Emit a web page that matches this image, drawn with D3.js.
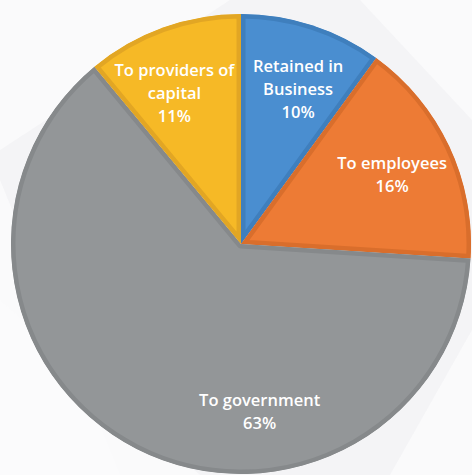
<!DOCTYPE html>
<html>
<head>
<meta charset="utf-8">
<script src="https://cdn.jsdelivr.net/npm/d3@7"></script>
<style>
html,body{margin:0;padding:0;background:#f4f4f6;overflow:hidden;}
svg{display:block;}
</style>
</head>
<body>
<svg id="chart" width="472" height="475"></svg>
<script>
// ---- data ----
const categories = ["Retained in Business", "To employees", "To government", "To providers of capital"];
const values = [10, 16, 63, 11];
const labelLines = [["Retained in", "Business", "10%"], ["To employees", "16%"], ["To government", "63%"], ["To providers of", "capital", "11%"]];
const fills = ["#4a8ed0", "#ed7b35", "#939698", "#f6b926"];
const borders = ["#3f7fbd", "#d96e2c", "#86898b", "#e2a624"];

const W = 472, H = 475;
const cx = 241, cy = 244, R = 230;
const svg = d3.select("#chart");

// background geometric shapes
const bg = svg.append("g");
bg.append("rect").attr("width", W).attr("height", H).attr("fill", "#f4f4f6");
const polys = [
  [[0,0],[230,0],[0,150]],
  [[0,180],[120,475],[0,475]],
  [[0,300],[200,475],[0,475]],
  [[360,0],[472,0],[472,120]],
  [[390,475],[472,330],[472,475]]
];
bg.selectAll("polygon.p").data(polys).join("polygon")
  .attr("points", d => d.map(p => p.join(",")).join(" "))
  .attr("fill", "#fbfbfc").attr("opacity", 0.9);

const pie = d3.pie().sort(null).value(d => d)(values);
const arc = d3.arc().innerRadius(0).outerRadius(R);

const g = svg.append("g").attr("transform", `translate(${cx},${cy})`);
const defs = svg.append("defs");
pie.forEach((d, i) => {
  defs.append("clipPath").attr("id", "clip" + i)
    .append("path").attr("d", arc(d));
});

g.selectAll("path.slice").data(pie).join("path")
  .attr("class", "slice")
  .attr("d", arc)
  .attr("fill", (d, i) => fills[i])
  .attr("stroke", (d, i) => borders[i])
  .attr("stroke-width", 9)
  .attr("stroke-linejoin", "round")
  .attr("clip-path", (d, i) => `url(#clip${i})`);

// label placement (Excel-style best fit)
const labelR = 167;
const deg = Math.PI / 180;
const angleOverride = {0: 20 * deg, 2: 173.6 * deg, 3: 336.5 * deg};
const lineH = 23;
g.selectAll("text.lbl").data(pie).join("text")
  .attr("class", "lbl")
  .attr("text-anchor", "middle")
  .attr("fill", "#ffffff")
  .style("font-family", "'Open Sans', sans-serif")
  .style("font-weight", "600")
  .style("font-size", "16.5px")
  .each(function(d, i) {
    const a = angleOverride[i] !== undefined ? angleOverride[i] : (d.startAngle + d.endAngle) / 2;
    const x = labelR * Math.sin(a), y = -labelR * Math.cos(a);
    const lines = labelLines[i];
    const top = y - (lines.length - 1) * lineH / 2 + 8;
    d3.select(this).selectAll("tspan").data(lines).join("tspan")
      .attr("x", x)
      .attr("y", (t, k) => top + k * lineH)
      .text(t => t);
  });
</script>
</body>
</html>
